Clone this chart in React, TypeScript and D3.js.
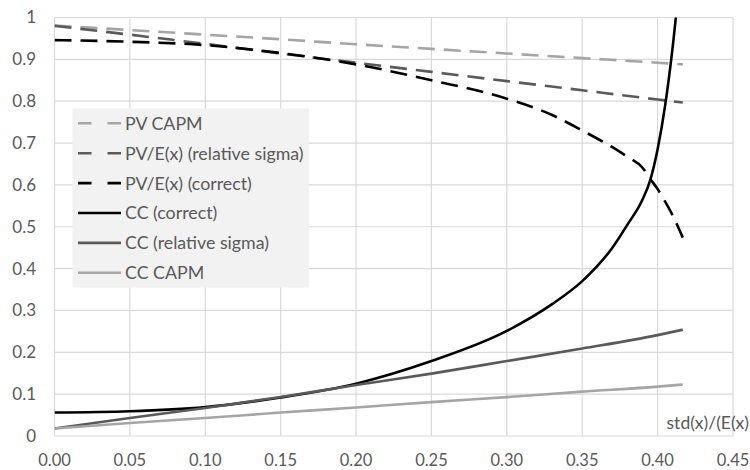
import React from 'react'
import * as d3 from 'd3'

// x values (std(x)/E(x))
const sigmaCoarse = [0, 0.05, 0.1, 0.15, 0.2, 0.25, 0.3, 0.35, 0.4, 0.4167]
const sigmaFine = [0, 0.05, 0.1, 0.15, 0.2, 0.25, 0.3, 0.33, 0.35, 0.37, 0.38, 0.39, 0.395, 0.4, 0.405, 0.41, 0.4167]

const pvCapm = [0.981, 0.97, 0.959, 0.948, 0.936, 0.925, 0.914, 0.903, 0.892, 0.888]
const pvRelative = [0.98, 0.959, 0.937, 0.914, 0.892, 0.87, 0.848, 0.826, 0.804, 0.797]
const pvCorrect = [0.946, 0.942, 0.934, 0.915, 0.888, 0.85, 0.806, 0.767, 0.73, 0.69, 0.667, 0.641, 0.615, 0.59, 0.56, 0.527, 0.474]
const ccCorrect = [0.056, 0.059, 0.069, 0.092, 0.125, 0.179, 0.251, 0.315, 0.37, 0.45, 0.505, 0.565, 0.61, 0.685, 0.79, 0.93, 1.17]
const ccRelative = [0.018, 0.043, 0.067, 0.093, 0.122, 0.149, 0.179, 0.209, 0.241, 0.254]
const ccCapm = [0.018, 0.031, 0.043, 0.056, 0.068, 0.081, 0.093, 0.106, 0.118, 0.123]

const xTicks = [0, 0.05, 0.1, 0.15, 0.2, 0.25, 0.3, 0.35, 0.4, 0.45]
const yTicks = [0, 0.1, 0.2, 0.3, 0.4, 0.5, 0.6, 0.7, 0.8, 0.9, 1]

const series = [
  {name: 'PV CAPM', xs: sigmaCoarse, ys: pvCapm, color: '#a5a5a5', dash: true},
  {name: 'PV/E(x) (relative sigma)', xs: sigmaCoarse, ys: pvRelative, color: '#5a5a5a', dash: true},
  {name: 'PV/E(x) (correct)', xs: sigmaFine, ys: pvCorrect, color: '#000000', dash: true},
  {name: 'CC (correct)', xs: sigmaFine, ys: ccCorrect, color: '#000000', dash: false},
  {name: 'CC (relative sigma)', xs: sigmaCoarse, ys: ccRelative, color: '#5a5a5a', dash: false},
  {name: 'CC CAPM', xs: sigmaCoarse, ys: ccCapm, color: '#a5a5a5', dash: false},
]

const W = 750
const H = 470
const left = 54.5
const right = 733
const top = 17.5
const bottom = 436
const font = 'Lato, "Open Sans", sans-serif'
const textColor = '#595959'

export default function App() {
  const x = d3.scaleLinear().domain([0, 0.45]).range([left, right])
  const y = d3.scaleLinear().domain([0, 1]).range([bottom, top])

  const line = d3
    .line<[number, number]>()
    .x((d) => x(d[0]))
    .y((d) => y(d[1]))
    .curve(d3.curveMonotoneX)

  return (
    <svg
      width={W}
      height={H}
      style={{position: 'absolute', left: 0, top: 0, background: '#fff'}}
    >
      <defs>
        <clipPath id="plot">
          <rect x={left} y={top} width={right - left} height={bottom - top} />
        </clipPath>
      </defs>

      {/* grid */}
      {yTicks.map((t) => (
        <line key={'gy' + t} x1={left} x2={right} y1={y(t)} y2={y(t)} stroke="#d9d9d9" strokeWidth={1.2} />
      ))}
      {xTicks.map((t) => (
        <line key={'gx' + t} x1={x(t)} x2={x(t)} y1={top} y2={bottom} stroke="#d9d9d9" strokeWidth={1.2} />
      ))}

      {/* tick labels */}
      {yTicks.map((t) => (
        <text
          key={'ly' + t}
          x={36}
          y={y(t)}
          dy="0.35em"
          textAnchor="end"
          fontFamily={font}
          fontSize={17}
          fill={textColor}
        >
          {t === 0 || t === 1 ? d3.format('d')(t) : d3.format('.1f')(t)}
        </text>
      ))}
      {xTicks.map((t) => (
        <text
          key={'lx' + t}
          x={x(t)}
          y={466}
          textAnchor="middle"
          fontFamily={font}
          fontSize={16.5}
          fill={textColor}
        >
          {d3.format('.2f')(t)}
        </text>
      ))}

      <text x={749} y={429} textAnchor="end" fontFamily={font} fontSize={17.5} fill={textColor}>
        std(x)/(E(x)
      </text>

      {/* series */}
      <g clipPath="url(#plot)">
        {series.map((s) => (
          <path
            key={s.name}
            d={line(s.xs.map((v, i) => [v, s.ys[i]] as [number, number])) || ''}
            fill="none"
            stroke={s.color}
            strokeWidth={2.6}
            strokeDasharray={s.dash ? '17,9' : undefined}
          />
        ))}
      </g>

      {/* legend */}
      <rect x={72.5} y={108.5} width={236.5} height={179} fill="#f2f2f2" />
      {series.map((s, i) => {
        const cy = 123.3 + i * 29.9
        return (
          <g key={'lg' + s.name}>
            <line
              x1={78}
              x2={121}
              y1={cy}
              y2={cy}
              stroke={s.color}
              strokeWidth={2.6}
              strokeDasharray={s.dash ? '13.5,16' : undefined}
            />
            <text x={125} y={cy} dy="0.36em" fontFamily={font} fontSize={17.8} fill={textColor}>
              {s.name}
            </text>
          </g>
        )
      })}
    </svg>
  )
}
